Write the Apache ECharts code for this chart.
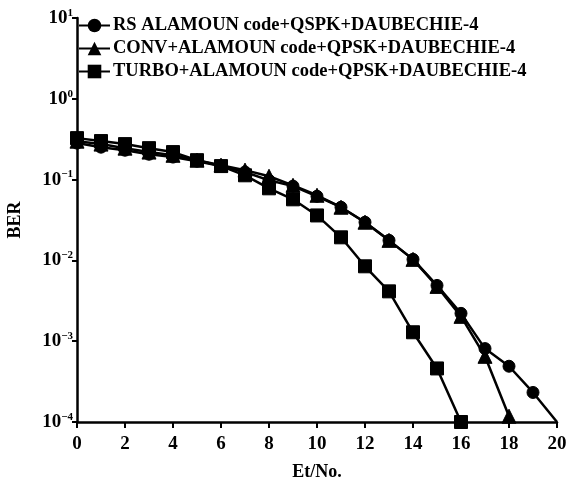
<!DOCTYPE html>
<html>
<head>
<meta charset="utf-8">
<script src="https://cdn.jsdelivr.net/npm/echarts@6/dist/echarts.min.js"></script>
<style>
html,body{margin:0;padding:0;background:#fff;}
#chart{width:568px;height:480px;}
</style>
</head>
<body>
<div id="chart"></div>
<script>
var xValues = [0, 1, 2, 3, 4, 5, 6, 7, 8, 9, 10, 11, 12, 13, 14, 15, 16, 17, 18, 19, 20];
var rsValues = [0.283, 0.252, 0.231, 0.206, 0.190, 0.169, 0.147, 0.124, 0.098, 0.083, 0.0622, 0.0455, 0.0297, 0.0177, 0.0103, 0.0049, 0.00221, 0.00081, 0.00049, 0.000232, 0.0001];
var convValues = [0.299, 0.275, 0.245, 0.219, 0.200, 0.174, 0.151, 0.131, 0.110, 0.085, 0.064, 0.0455, 0.0297, 0.0177, 0.0103, 0.00477, 0.00203, 0.00065, 0.000118];
var turboValues = [0.326, 0.300, 0.275, 0.245, 0.219, 0.174, 0.147, 0.113, 0.078, 0.057, 0.036, 0.0193, 0.00845, 0.00414, 0.00129, 0.00046, 0.0001];
var seriesNames = ['RS ALAMOUN code+QSPK+DAUBECHIE-4', 'CONV+ALAMOUN code+QPSK+DAUBECHIE-4', 'TURBO+ALAMOUN code+QPSK+DAUBECHIE-4'];
var xTickLabels = ['0', '2', '4', '6', '8', '10', '12', '14', '16', '18', '20'];
var xAxisTitle = 'Et/No.';
var yAxisTitle = 'BER';

function pairs(vals) {
  return vals.map(function (v, i) { return [xValues[i], v]; });
}

var FONT = '"Liberation Serif", "DejaVu Serif", serif';
var chart = echarts.init(document.getElementById('chart'), null, {renderer: 'canvas'});

var rsData = pairs(rsValues);
// last RS point sits in the corner without a visible marker
rsData[rsData.length - 1] = {value: rsData[rsData.length - 1], symbol: 'none'};

var lineStyle = {color: '#000', width: 2.5};
var itemStyle = {color: '#000', borderColor: '#000'};

chart.setOption({
  animation: false,
  backgroundColor: '#fff',
  grid: {left: 77, right: 11, top: 18, bottom: 58, containLabel: false, outerBoundsMode: 'none'},
  legend: {
    orient: 'vertical',
    left: 78,
    top: 16,
    itemWidth: 31,
    itemHeight: 17,
    itemGap: 4,
    padding: 0,
    textStyle: {fontFamily: FONT, fontSize: 18.5, fontWeight: 'bold', color: '#000', padding: [0, 0, 0, -2]},
    data: seriesNames.map(function (n) { return {name: n}; })
  },
  xAxis: {
    type: 'value',
    min: 0,
    max: 20,
    interval: 2,
    name: xAxisTitle,
    nameLocation: 'middle',
    nameGap: 41,
    nameTextStyle: {fontFamily: FONT, fontSize: 18, fontWeight: 'bold', color: '#000'},
    axisLine: {show: true, onZero: false, lineStyle: {color: '#000', width: 2.5}},
    axisTick: {show: true, inside: false, length: 6, lineStyle: {color: '#000', width: 2}},
    axisLabel: {
      fontFamily: FONT, fontSize: 19, fontWeight: 'bold', color: '#000', margin: 13,
      formatter: function (v) { return xTickLabels[Math.round(v / 2)]; }
    },
    splitLine: {show: false}
  },
  yAxis: {
    type: 'log',
    logBase: 10,
    min: 1e-4,
    max: 10,
    name: yAxisTitle,
    nameLocation: 'middle',
    nameGap: 53,
    nameRotate: 90,
    nameTextStyle: {fontFamily: FONT, fontSize: 18, fontWeight: 'bold', color: '#000'},
    axisLine: {show: true, lineStyle: {color: '#000', width: 2.5}},
    axisTick: {show: true, inside: false, length: 5, lineStyle: {color: '#000', width: 2}},
    minorTick: {show: false},
    splitLine: {show: false},
    axisLabel: {
      margin: 4,
      formatter: function (v) {
        var e = Math.round(Math.log(v) / Math.LN10);
        var s = e < 0 ? '\u2212' + (-e) : String(e);
        return '{b|10}{s|' + s + '}';
      },
      rich: {
        b: {fontFamily: FONT, fontSize: 19, fontWeight: 'bold', color: '#000'},
        s: {fontFamily: FONT, fontSize: 11, fontWeight: 'bold', color: '#000', padding: [0, 0, 10, 0]}
      }
    }
  },
  series: [
    {name: seriesNames[0], type: 'line', data: rsData, symbol: 'circle', symbolSize: 12,
     lineStyle: lineStyle, itemStyle: itemStyle, clip: false},
    {name: seriesNames[1], type: 'line', data: pairs(convValues), symbol: 'triangle', symbolSize: 14,
     lineStyle: lineStyle, itemStyle: itemStyle, clip: false},
    {name: seriesNames[2], type: 'line', data: pairs(turboValues), symbol: 'rect', symbolSize: 13,
     lineStyle: lineStyle, itemStyle: itemStyle, clip: false}
  ]
});
</script>
</body>
</html>
